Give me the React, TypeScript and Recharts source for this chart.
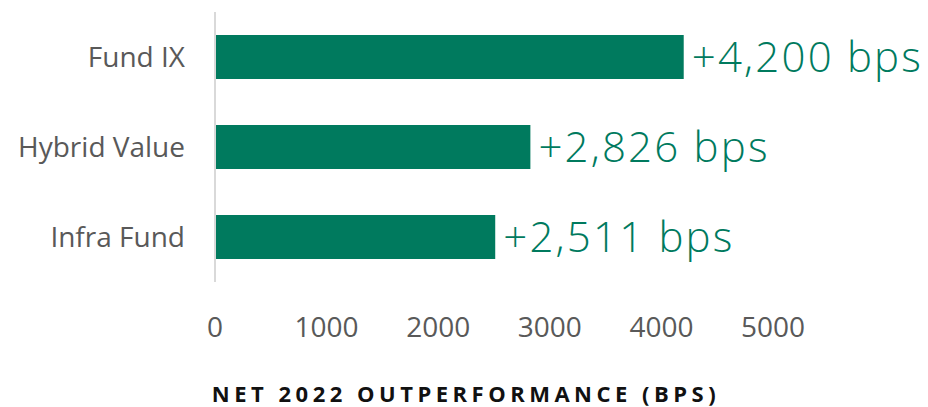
import React from 'react';
import { BarChart, Bar, XAxis, YAxis, LabelList, Label } from 'recharts';

const funds = ['Fund IX', 'Hybrid Value', 'Infra Fund'];
const outperformance = [4200, 2826, 2511];
const xTicks = [0, 1000, 2000, 3000, 4000, 5000];
const axisTitle = 'NET 2022 OUTPERFORMANCE (BPS)';

const GREEN = '#007A5E';
const FONT = '"Open Sans", "Noto Sans", sans-serif';

const data = funds.map((name, i) => ({ name, value: outperformance[i] }));

const App: React.FC = () => {
  return (
    <div style={{ position: 'absolute', left: 0, top: 0, width: 928, height: 407, background: '#fff', fontFamily: FONT }}>
      <BarChart
        width={928}
        height={407}
        data={data}
        layout="vertical"
        margin={{ top: 12, right: 155, left: 0, bottom: 0 }}
        barCategoryGap={23}
      >
        <XAxis
          type="number"
          domain={[0, 5000]}
          ticks={xTicks}
          height={125}
          axisLine={false}
          tickLine={false}
          tickSize={0}
          tickMargin={35}
          tick={{ fontSize: 28, fill: '#595959', fontFamily: FONT }}
        >
          <Label
            content={({ viewBox }: any) => (
              <text
                x={466}
                y={viewBox.y + viewBox.height - 5}
                textAnchor="middle"
                fontSize={22}
                fontWeight={700}
                letterSpacing={4.5}
                fill="#111"
                fontFamily={FONT}
              >
                {axisTitle}
              </text>
            )}
          />
        </XAxis>
        <YAxis
          type="category"
          dataKey="name"
          width={215}
          axisLine={{ stroke: '#d9d9d9', strokeWidth: 2 }}
          tickLine={false}
          tickSize={0}
          tickMargin={30}
          tick={{ fontSize: 28, fill: '#595959', fontFamily: FONT }}
        />
        <Bar dataKey="value" fill={GREEN} isAnimationActive={false}>
          <LabelList
            dataKey="value"
            position="right"
            offset={8}
            formatter={(v: any) => `+${Number(v).toLocaleString('en-US')} bps`}
            style={{ fontSize: 42, fill: GREEN, fontFamily: FONT, fontWeight: 300, letterSpacing: 2.2 }}
          />
        </Bar>
      </BarChart>
    </div>
  );
};

export default App;
